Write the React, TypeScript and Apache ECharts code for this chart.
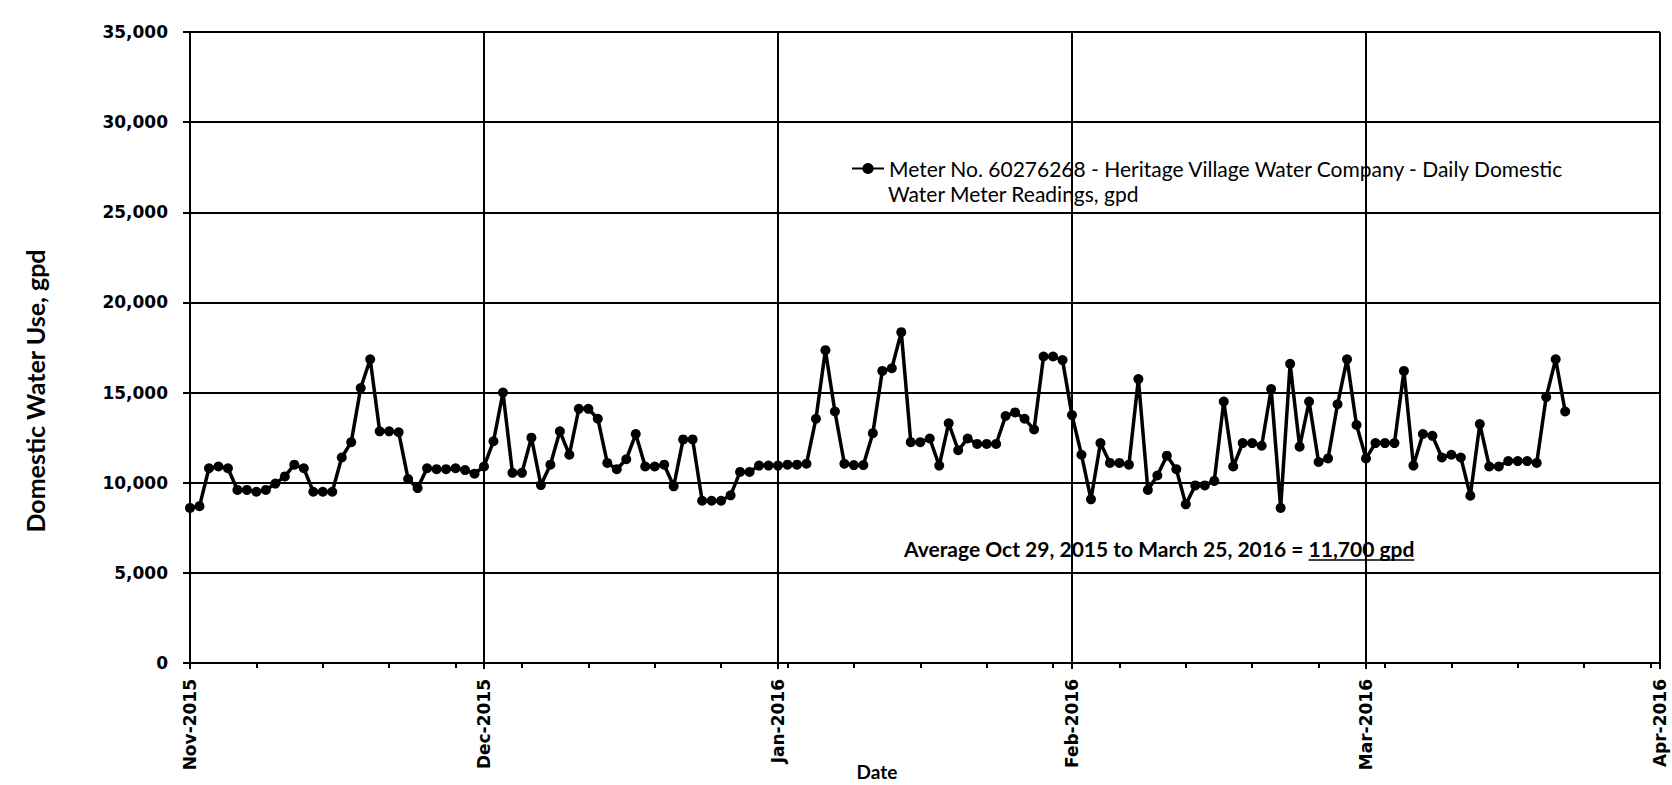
import React, { useEffect, useRef } from "react";
import * as echarts from "echarts";

// Daily readings, one per day starting Nov 1, 2015 (through Mar 25, 2016), gpd
const START_DATE = "2015-11-01";
const usage: number[] = [
  // Nov 1 - Dec 3
  8600, 8700, 10800, 10900, 10800, 9600, 9600, 9500, 9600, 9950, 10350, 11000, 10800,
  9500, 9500, 9500, 11400, 12250, 15250, 16850, 12850, 12850, 12800, 10200, 9700,
  10800, 10750, 10750, 10800, 10700, 10500, 10900, 12300,
  // Dec 4 - Jan 4
  15000, 10550, 10550, 12500, 9870, 11000, 12850, 11550, 14100, 14100, 13550, 11100,
  10750, 11300, 12700, 10900, 10900, 11000, 9800, 12400, 12400, 9000, 9000, 9000,
  9300, 10600, 10600, 10950, 10950, 10950, 11000, 11000,
  // Jan 5 - Feb 5
  11050, 13550, 17350, 13950, 11050, 10980, 10980, 12750, 16200, 16350, 18350, 12250,
  12250, 12450, 10950, 13300, 11800, 12450, 12150, 12150, 12150, 13700, 13900, 13550,
  12950, 17000, 17000, 16800, 13750, 11550, 9080, 12200,
  // Feb 6 - Mar 5
  11100, 11100, 11000, 15750, 9600, 10400, 11500, 10750, 8800, 9850, 9850, 10100,
  14500, 10900, 12200, 12200, 12050, 15200, 8600, 16600, 12000, 14500, 11150, 11350,
  14350, 16850, 13200, 11350, 12200,
  // Mar 6 - Mar 25
  12200, 12200, 16200, 10950, 12700, 12600, 11400, 11550, 11400, 9280, 13250, 10900,
  10900, 11200, 11200, 11200, 11100, 14750, 16850, 13950,
];

const xTickLabels = ["Nov-2015", "Dec-2015", "Jan-2016", "Feb-2016", "Mar-2016", "Apr-2016"];
const X_MAJOR_DAYS = 31;
const X_MINOR_DAYS = 7;
const X_MAX_DAYS = 155;
const Y_MAX = 35000;
const Y_STEP = 5000;

const LEGEND_LINE1 = "Meter No. 60276268 - Heritage Village Water Company - Daily Domestic";
const LEGEND_LINE2 = "Water Meter Readings, gpd";
const SERIES_NAME = LEGEND_LINE1 + " " + LEGEND_LINE2;
const AVG_TEXT = "Average Oct 29, 2015 to March 25, 2016 = ";
const AVG_VALUE = "11,700 gpd";
const Y_TITLE = "Domestic Water Use, gpd";
const X_TITLE = "Date";

function measure(text: string, font: string): number {
  const c = document.createElement("canvas").getContext("2d");
  if (!c) return text.length * 9;
  c.font = font;
  return c.measureText(text).width;
}

export default function App() {
  const ref = useRef<HTMLDivElement>(null);
  useEffect(() => {
    if (!ref.current) return;
    const chart = echarts.init(ref.current, undefined, { renderer: "svg" });
    const dayIndexData = usage.map((v, i) => [i, v]);

    const avgFontSize = 21;
    const avgFont = `bold ${avgFontSize}px Lato`;
    const avgX = 904;
    const avgY = 548;
    const w1 = measure(AVG_TEXT, avgFont);
    const w2 = measure(AVG_VALUE, avgFont);

    const axisBlack = { color: "#000", width: 2 };
    const labelFont = { fontFamily: "DejaVu Sans", fontWeight: "bold" as const, fontSize: 17, color: "#000" };

    chart.setOption({
      animation: false,
      backgroundColor: "#fff",
      grid: { left: 190, right: 12, top: 32, bottom: 122, containLabel: false },
      legend: {
        data: [SERIES_NAME],
        left: 851,
        top: 158,
        padding: 0,
        itemWidth: 32,
        itemHeight: 14,
        z: -1,
        formatter: () => LEGEND_LINE1,
        textStyle: { fontFamily: "Lato", fontSize: 21, color: "#000" },
      },
      xAxis: [
        {
          type: "value",
          min: 0,
          max: X_MAX_DAYS,
          interval: X_MAJOR_DAYS,
          axisLine: { show: true, lineStyle: axisBlack },
          axisTick: { show: true, length: 6, lineStyle: axisBlack },
          splitLine: { show: true, lineStyle: axisBlack },
          axisLabel: {
            ...labelFont,
            rotate: 90,
            margin: 16,
            formatter: (v: number) => xTickLabels[Math.round(v / X_MAJOR_DAYS)] ?? "",
          },
        },
        {
          type: "value",
          position: "bottom",
          min: 0,
          max: X_MAX_DAYS,
          interval: X_MINOR_DAYS,
          axisLine: { show: false },
          axisTick: { show: true, length: 5, lineStyle: axisBlack },
          splitLine: { show: false },
          axisLabel: { show: false },
        },
      ],
      yAxis: {
        type: "value",
        min: 0,
        max: Y_MAX,
        interval: Y_STEP,
        axisLine: { show: true, lineStyle: axisBlack },
        axisTick: { show: true, length: 7, lineStyle: axisBlack },
        splitLine: { show: true, lineStyle: axisBlack },
        axisLabel: {
          ...labelFont,
          margin: 22,
          formatter: (v: number) => v.toLocaleString("en-US"),
        },
      },
      series: [
        {
          name: SERIES_NAME,
          type: "line",
          xAxisIndex: 0,
          data: dayIndexData,
          symbol: "circle",
          symbolSize: 10,
          showSymbol: true,
          lineStyle: { color: "#000", width: 3.5 },
          itemStyle: { color: "#000" },
          z: 5,
        },
      ],
      graphic: [
        {
          type: "text",
          left: 888,
          top: 183,
          z: -1,
          style: { text: LEGEND_LINE2, fontFamily: "Lato", fontSize: 21, fill: "#000" },
        },
        {
          type: "text",
          x: 35,
          y: 391,
          rotation: Math.PI / 2,
          style: {
            text: Y_TITLE,
            fontFamily: "Lato",
            fontWeight: "bold",
            fontSize: 25,
            fill: "#000",
            align: "center",
            verticalAlign: "middle",
          },
        },
        {
          type: "text",
          x: 877,
          y: 771,
          style: {
            text: X_TITLE,
            fontFamily: "Lato",
            fontWeight: "bold",
            fontSize: 19,
            fill: "#000",
            align: "center",
            verticalAlign: "middle",
          },
        },
        {
          type: "text",
          x: avgX,
          y: avgY,
          z: -1,
          style: {
            text: AVG_TEXT,
            fontFamily: "Lato",
            fontWeight: "bold",
            fontSize: avgFontSize,
            fill: "#000",
            align: "left",
            verticalAlign: "middle",
          },
        },
        {
          type: "text",
          x: avgX + w1,
          y: avgY,
          z: -1,
          style: {
            text: AVG_VALUE,
            fontFamily: "Lato",
            fontWeight: "bold",
            fontSize: avgFontSize,
            fill: "#000",
            align: "left",
            verticalAlign: "middle",
          },
        },
        {
          type: "line",
          z: -1,
          shape: { x1: avgX + w1, y1: avgY + 12, x2: avgX + w1 + w2, y2: avgY + 12 },
          style: { stroke: "#000", lineWidth: 1.5 },
        },
      ],
    });
    return () => chart.dispose();
  }, []);
  return <div ref={ref} style={{ position: "fixed", left: 0, top: 0, width: 1672, height: 785 }} />;
}
